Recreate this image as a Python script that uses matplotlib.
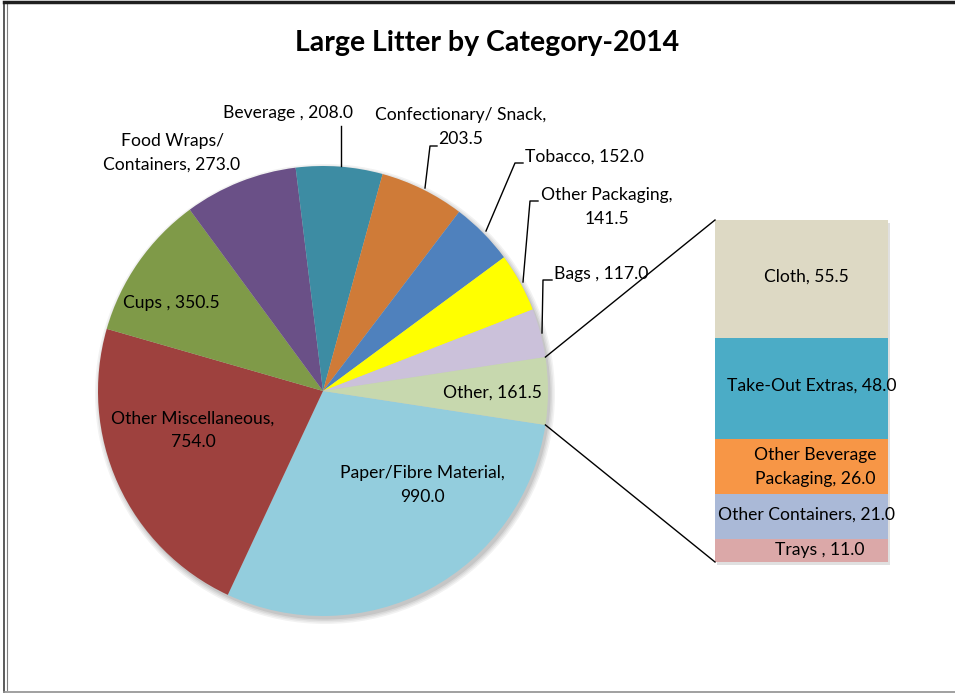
import matplotlib
matplotlib.use("Agg")
import matplotlib.pyplot as plt
from matplotlib.patches import Circle, Rectangle
import numpy as np

plt.rcParams['font.family'] = ['Lato', 'DejaVu Sans']

# ---- data ----
pie_labels = ["Paper/Fibre Material", "Other Miscellaneous", "Cups ", "Food Wraps/\nContainers",
              "Beverage ", "Confectionary/ Snack,\n", "Tobacco", "Other Packaging,\n", "Bags ", "Other"]
pie_values = [990.0, 754.0, 350.5, 273.0, 208.0, 203.5, 152.0, 141.5, 117.0, 161.5]
pie_colors = ["#93CDDD", "#9E413E", "#7F9A48", "#6A5087", "#3D8CA3", "#CF7B38",
              "#4F81BD", "#FFFF00", "#CBC1DA", "#C7D8AE"]

bar_labels = ["Cloth", "Take-Out Extras", "Other Beverage\nPackaging", "Other Containers", "Trays "]
bar_values = [55.5, 48.0, 26.0, 21.0, 11.0]
bar_colors = ["#DDD9C4", "#4BACC6", "#F79646", "#AAB9D7", "#DBA8A8"]

title = "Large Litter by Category-2014"

# ---- layout (pixel coordinates, y measured from top) ----
W, H = 955, 695
fig = plt.figure(figsize=(W / 100, H / 100), dpi=100)
ax = fig.add_axes([0, 0, 1, 1])

def Y(yp):
    return H - yp

cx, cy, R = 323, Y(391), 225
total = sum(pie_values)
start = -pie_values[-1] / total * 360 / 2

# soft shadow
for i, a in enumerate([0.05, 0.05, 0.06, 0.08]):
    ax.add_patch(Circle((cx + 2, cy - 3), R + 5 - i * 1.5, color="#000000", alpha=a, lw=0, zorder=0))

wedges, _ = ax.pie(pie_values, colors=pie_colors, startangle=start, counterclock=False,
                   center=(cx, cy), radius=R, wedgeprops=dict(linewidth=0))
for w in wedges:
    w.set_zorder(2)

# ---- bar of pie ----
bx0, bx1 = 715, 888
btop, bbot = 220, 562
scale = (bbot - btop) / sum(bar_values)
bw = bx1 - bx0
bxc = (bx0 + bx1) / 2
ax.add_patch(Rectangle((bx0 + 2, Y(bbot) - 3), bw, (bbot - btop), color="#000000", alpha=0.12, lw=0, zorder=1))
bottom = Y(bbot)
for v, c in zip(bar_values[::-1], bar_colors[::-1]):
    ax.bar(bxc, v * scale, width=bw, bottom=bottom, color=c, linewidth=0, zorder=2)
    bottom += v * scale

# connector lines
th = np.deg2rad(pie_values[-1] / total * 360 / 2)
ax.plot([cx + R * np.cos(th), bx0], [cy + R * np.sin(th), Y(btop)], color="black", lw=1, zorder=3)
ax.plot([cx + R * np.cos(-th), bx0], [cy + R * np.sin(-th), Y(bbot)], color="black", lw=1, zorder=3)

fs = 12.6
def lab(x, y, s, ha="center"):
    ax.text(x, Y(y), s, ha=ha, va="center", fontsize=fs, color="black", zorder=5, linespacing=1.55)

lab(422, 485, f"{pie_labels[0]},\n{pie_values[0]:.1f}")
lab(193, 430, f"{pie_labels[1]},\n{pie_values[1]:.1f}")
lab(171, 303, f"{pie_labels[2]}, {pie_values[2]:.1f}")
lab(172, 153, f"{pie_labels[3]}, {pie_values[3]:.1f}")
lab(288, 113, f"{pie_labels[4]}, {pie_values[4]:.1f}")
lab(461, 127, f"{pie_labels[5]}{pie_values[5]:.1f}")
lab(584, 157, f"{pie_labels[6]}, {pie_values[6]:.1f}")
lab(607, 207, f"{pie_labels[7]}{pie_values[7]:.1f}")
lab(601, 274, f"{pie_labels[8]}, {pie_values[8]:.1f}")
lab(492, 393, f"{pie_labels[9]}, {pie_values[9]:.1f}")

def leader(pts):
    ax.plot([p[0] for p in pts], [Y(p[1]) for p in pts], color="black", lw=1, zorder=4)

leader([(341, 126), (341, 166)])
leader([(437, 146), (430, 146), (425, 188)])
leader([(523, 163), (515, 163), (486, 231)])
leader([(538, 201), (530, 201), (523, 282)])
leader([(552, 280), (543, 280), (542, 333)])

bar_text_pos = [(806, 277), (812, 386), (815, 467), (806, 515), (820, 550)]
for (x, y), s, v in zip(bar_text_pos, bar_labels, bar_values):
    lab(x, y, f"{s}, {v:.1f}")

ax.text(487, Y(43), title, ha="center", va="center", fontsize=20.5, fontweight="bold", zorder=5)

# chart frame
ax.plot([4, 4], [Y(2), Y(692)], color="#404040", lw=1.2, zorder=6)
ax.plot([7, 7], [Y(4), Y(690)], color="#808080", lw=0.8, zorder=6)
ax.plot([4, W], [Y(2), Y(2)], color="#202020", lw=2.5, zorder=6)
ax.plot([4, W], [Y(692), Y(692)], color="#909090", lw=1.2, zorder=6)

ax.set_xlim(0, W)
ax.set_ylim(0, H)
ax.set_aspect("auto")
ax.axis("off")

fig.savefig("out.png", dpi=100, facecolor="white")
